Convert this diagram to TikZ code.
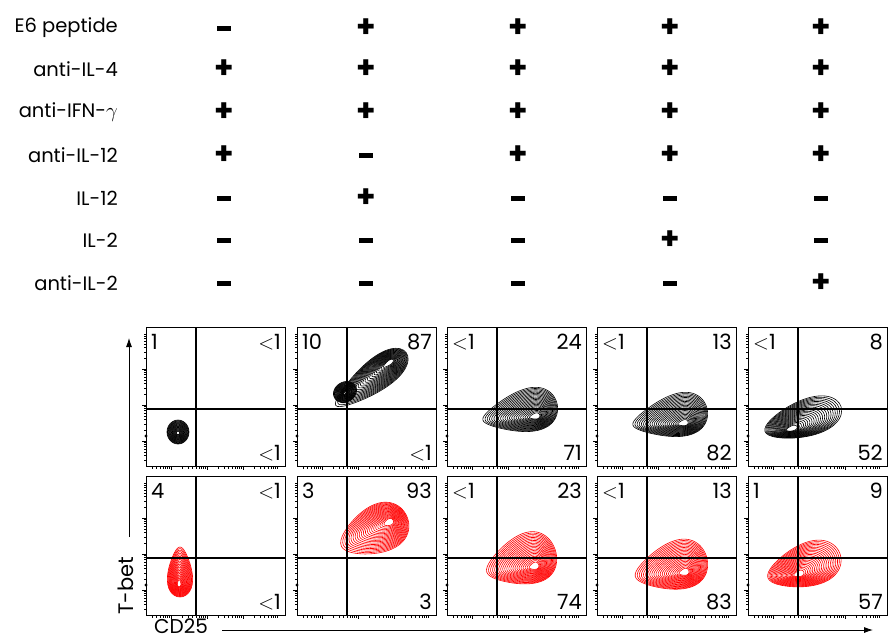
\documentclass[tikz,border=0pt]{standalone}
\usepackage{fontspec}
\setmainfont{Poppins}
\usetikzlibrary{arrows.meta}

% nested egg-shaped contour rings, shrinking toward a peak
\newcommand{\contourset}[9]{%
  \foreach \k in {0,...,21} {
    \pgfmathsetmacro{\sc}{1-0.041*\k}
    \pgfmathsetmacro{\ex}{#2+#7*(1-\sc)}
    \pgfmathsetmacro{\ey}{#3+#8*(1-\sc)}
    \pgfmathsetmacro{\ea}{#4*\sc}
    \pgfmathsetmacro{\eb}{#5*\sc}
    \draw[contour,#1,shift={(\ex,\ey)},rotate=#6] plot[smooth cycle,domain=0:350,samples=36,variable=\t] ({\ea*cos(\t)},{\eb*sin(\t)*(1+#9*cos(\t))});
  }%
}

\tikzset{
  rowlabel/.style={anchor=east,inner sep=0pt,font=\fontsize{19.5}{22}\selectfont},
  sign/.style={inner sep=0pt,font=\fontsize{31}{31}\selectfont\bfseries},
  frame/.style={draw,line width=0.9pt},
  gate/.style={line width=1.1pt},
  pct/.style={inner sep=0pt,font=\fontsize{21}{21}\selectfont},
  contour/.style={line width=0.6pt},
  tick/.style={line width=0.5pt},
  axis/.style={-{Latex[length=9pt,width=6pt]},line width=0.8pt}
}

\begin{document}
\begin{tikzpicture}[x=1pt,y=-1pt]
	\useasboundingbox (0,0) rectangle (888,641);

	% treatment table
	\foreach \lab/\yy/\vals [count=\r] in {E6 peptide/28/{0,1,1,1,1},anti-IL-4/69/{1,1,1,1,1},anti-IFN-$\gamma$/112/{1,1,1,1,1},anti-IL-12/155/{1,0,1,1,1},IL-12/198/{0,1,0,0,0},IL-2/240/{0,0,0,1,0},anti-IL-2/283/{0,0,0,0,1}} {
		\node[rowlabel] (lab\r) at (118,\yy) {\lab};
		\foreach \v [count=\c] in \vals {
			\pgfmathsetmacro{\xx}{{224,366,518,670,821}[\c-1]}
			\node[sign] (sg\r-\c) at (\xx,\yy) {\ifnum\v=1 +\else\rule{14pt}{5pt}\fi};
		}
	}

	% contour plots
	\foreach \cc/\cx/\cy/\rx/\ry/\ang/\dx/\dy/\eg in {black/178/432/11/12/0/0/1/0,red/180/572/25/12/-90/-1/13/0.35,
		black/371/379/44/15/37/20/-18/0.35,black/345/392/12/10/30/0/1/0,red/374/531/36/23/25/17/-10/0.3,
		black/520/412/38/20/12/17/5/0.45,red/521/561/36/24/18/15/6/0.4,
		black/670/417/38/20/12/15/7/0.45,red/671/567/37/23/15/15/6/0.4,
		black/803/419/40/18/18/-13/11/0.25,red/804/566/38/21/18/-6/9/0.3}
		\contourset{\cc}{\cx}{\cy}{\rx}{\ry}{\ang}{\dx}{\dy}{\eg};

	% frames, quadrant gates and log ticks
	\foreach \col/\px in {1/146,2/297,3/447,4/597,5/748} {
		\foreach \row/\py in {1/327,2/476} {
			\draw[frame] (\px,\py) rectangle ++(139,139);
			\draw[gate] (\px+50,\py) -- ++(0,139);
			\draw[gate] (\px,\py+82) -- ++(139,0);
			\fill (\px,\py+109) circle (1.6);
			\foreach \d in {-11,25,61,97} {
				\foreach \m in {2,...,9} {
					\pgfmathsetmacro{\tt}{\d+36*log10(\m)}
					\ifdim\tt pt>0pt
						\draw[tick] (\px+\tt,\py+139) -- ++(0,2.5);
						\draw[tick] (\px,\py+139-\tt) -- ++(-2.5,0);
					\fi
				}
				\ifnum\d>0
					\draw[tick] (\px+\d,\py+139) -- ++(0,4);
					\draw[tick] (\px,\py+139-\d) -- ++(-4,0);
				\fi
			}
		}
	}

	% quadrant percentages
	\foreach \px/\py/\ul/\ur/\lr [count=\q] in {146/327/1/$<$1/$<$1,297/327/10/87/$<$1,447/327/$<$1/24/71,597/327/$<$1/13/82,748/327/$<$1/8/52,
		146/476/4/$<$1/$<$1,297/476/3/93/3,447/476/$<$1/23/74,597/476/$<$1/13/83,748/476/1/9/57} {
		\node[pct,anchor=north west] (ul\q) at (\px+5,\py+7) {\ul};
		\node[pct,anchor=north east] (ur\q) at (\px+135,\py+7) {\ur};
		\node[pct,anchor=south east] (lr\q) at (\px+135,\py+134) {\lr};
	}

	% axes
	\coordinate (ytail) at (129,537);
	\coordinate (yhead) at (129,338);
	\coordinate (xtail) at (222,630);
	\coordinate (xhead) at (873,630);
	\draw[axis] (ytail) -- (yhead);
	\draw[axis] (xtail) -- (xhead);
	\node[pct,rotate=90] (tbet) at (126,586) {T-bet};
	\node[pct,font=\fontsize{20}{20}\selectfont] (cd25) at (181,626) {CD25};
\end{tikzpicture}
\end{document}
